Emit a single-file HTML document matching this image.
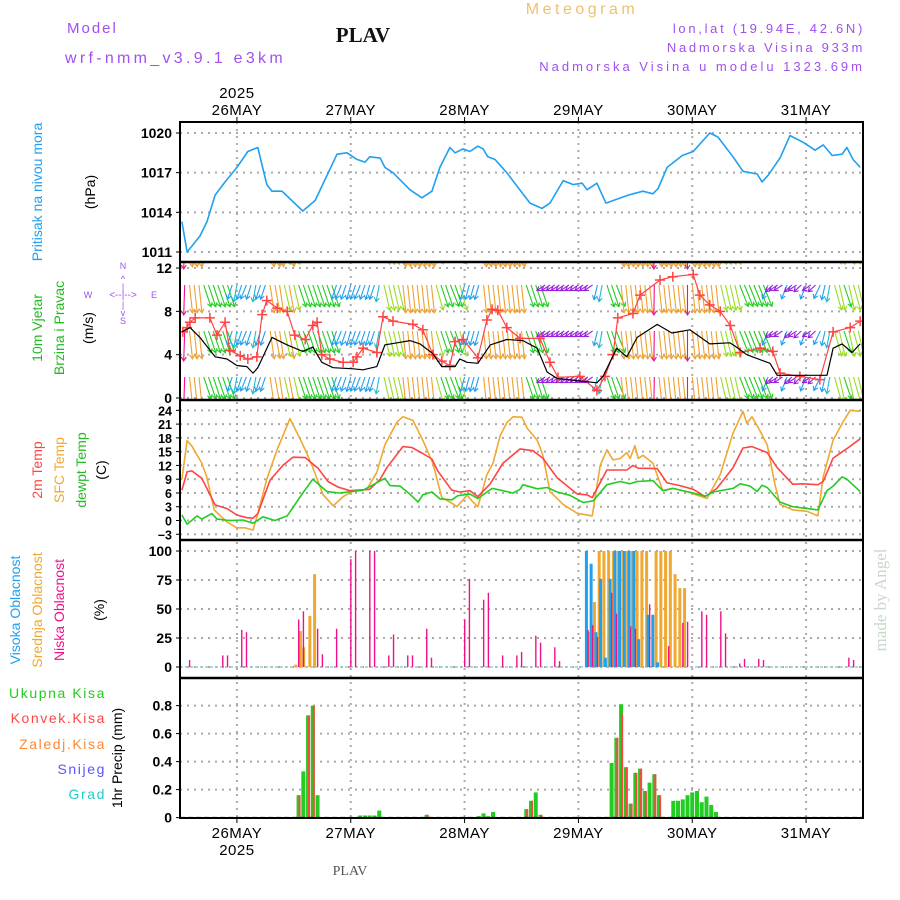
<!DOCTYPE html>
<html><head><meta charset="utf-8"><title>Meteogram PLAV</title>
<style>
html,body{margin:0;padding:0;background:#fff;}
svg{display:block;}
text{font-family:"Liberation Sans",sans-serif;}
.tick{font-size:14px;font-weight:bold;fill:#000;text-anchor:end;}
.ticks{font-size:12.5px;font-weight:bold;fill:#000;text-anchor:end;}
.lab{font-family:"Liberation Sans Narrow","Liberation Sans",sans-serif;font-size:14px;text-anchor:middle;}
.day{font-size:15px;fill:#000;text-anchor:middle;letter-spacing:0.5px;}
</style></head>
<body>
<svg id="chart" width="900" height="900" viewBox="0 0 900 900" xmlns="http://www.w3.org/2000/svg">
<rect x="0" y="0" width="900" height="900" fill="#fff"/>
<defs>
<clipPath id="c1"><rect x="180" y="122" width="683" height="140"/></clipPath>
<clipPath id="c2"><rect x="180" y="263" width="683" height="137"/></clipPath>
<clipPath id="c3"><rect x="180" y="400" width="683" height="140"/></clipPath>
<clipPath id="c4"><rect x="180" y="540" width="683" height="138"/></clipPath>
<clipPath id="c5"><rect x="180" y="678" width="683" height="140"/></clipPath>
</defs>
<!-- header -->
<text x="67" y="33" font-size="15" fill="#a050f0" letter-spacing="2">Model</text>
<text x="65" y="63" font-size="16" fill="#a050f0" letter-spacing="3.3">wrf-nmm_v3.9.1  e3km</text>
<text x="363" y="42" font-size="21" font-weight="bold" fill="#111" text-anchor="middle" style="font-family:'Liberation Serif',serif;">PLAV</text>
<text x="582" y="14" font-size="16" fill="#f0c070" text-anchor="middle" letter-spacing="3.5">Meteogram</text>
<text x="865" y="33" font-size="13" fill="#a050f0" text-anchor="end" letter-spacing="2.7">lon,lat (19.94E, 42.6N)</text>
<text x="865" y="52" font-size="13" fill="#a050f0" text-anchor="end" letter-spacing="2.7">Nadmorska Visina 933m</text>
<text x="865" y="71" font-size="13" fill="#a050f0" text-anchor="end" letter-spacing="3.0">Nadmorska Visina u modelu 1323.69m</text>
<!-- left labels -->
<text class="lab" transform="translate(42,192) rotate(-90)" fill="#1fa0f0" font-size="15.5">Pritisak na nivou mora</text>
<text class="lab" transform="translate(95,192) rotate(-90)" fill="#000">(hPa)</text>
<text class="lab" transform="translate(42,328) rotate(-90)" fill="#22bb22" font-size="15">10m Vjetar</text>
<text class="lab" transform="translate(64,328) rotate(-90)" fill="#22bb22" font-size="15">Brzina i Pravac</text>
<text class="lab" transform="translate(93,328) rotate(-90)" fill="#000">(m/s)</text>
<g fill="#a050f0" font-size="9" text-anchor="middle">
<text x="123" y="269">N</text><text x="123" y="324">S</text><text x="88" y="298">W</text><text x="154" y="298">E</text>
<text x="123" y="298" font-size="10">&lt;--|--&gt;</text>
<text x="123" y="282" font-size="9">^</text><text x="123" y="290">|</text><text x="123" y="308">|</text><text x="123" y="316">v</text>
</g>
<text class="lab" transform="translate(42,470) rotate(-90)" fill="#ff4444" font-size="15">2m Temp</text>
<text class="lab" transform="translate(64,470) rotate(-90)" fill="#f0a830" font-size="15">SFC Temp</text>
<text class="lab" transform="translate(86,470) rotate(-90)" fill="#22bb22" font-size="15">dewpt Temp</text>
<text class="lab" transform="translate(106,470) rotate(-90)" fill="#000">(C)</text>
<text class="lab" transform="translate(20,610) rotate(-90)" fill="#1fa0f0" font-size="15">Visoka Oblacnost</text>
<text class="lab" transform="translate(42,610) rotate(-90)" fill="#f0a830" font-size="15">Srednja Oblacnost</text>
<text class="lab" transform="translate(64,610) rotate(-90)" fill="#f0108a" font-size="15">Niska Oblacnost</text>
<text class="lab" transform="translate(104,610) rotate(-90)" fill="#000">(%)</text>
<g font-size="14" text-anchor="end" letter-spacing="1.6">
<text x="106" y="698" fill="#22cc22">Ukupna Kisa</text>
<text x="106" y="723" fill="#ff4444">Konvek.Kisa</text>
<text x="106" y="749" fill="#ff8833">Zaledj.Kisa</text>
<text x="106" y="774" fill="#5555ff">Snijeg</text>
<text x="106" y="799" fill="#22cccc">Grad</text>
</g>
<text class="lab" transform="translate(122,758) rotate(-90)" fill="#000" font-size="15">1hr Precip (mm)</text>
<text transform="translate(886,600) rotate(-90)" font-size="17" fill="#c8d8c8" text-anchor="middle" style="font-family:'Liberation Serif',serif;">made by Angel</text>
<text x="350" y="875" font-size="14" fill="#555" text-anchor="middle" style="font-family:'Liberation Serif',serif;">PLAV</text>
<g id="plot"></g>
</svg>
<script>
// ---------- DATA ----------
const dayLabels = ["26MAY","27MAY","28MAY","29MAY","30MAY","31MAY"];
const dayHours = [12,36,60,84,108,132];
const yearLabel = "2025";
const pressureTicks = [1011,1014,1017,1020];
const windTicks = [0,4,8,12];
const tempTicks = [-3,0,3,6,9,12,15,18,21,24];
const cloudTicks = [0,25,50,75,100];
const precipTicks = [0,0.2,0.4,0.6,0.8];
const precipTickLabels = ["0","0.2","0.4","0.6","0.8"];

const pressureHours = [0.4,1.5,4.2,5.7,7.4,9.5,12,14.3,16.4,18.3,19.4,21.5,25.9,28.5,33.1,35.2,37.3,39,40,42.2,43.2,44.9,48.5,51,53.1,54.8,56.9,58,59.7,61.1,62.8,63.9,64.9,66.4,68.9,73.8,76.3,78,80.8,82.9,84.8,85.8,87.9,89.8,94.5,95.5,97.6,99.7,100.8,102.7,105.9,108.2,111.7,113.4,116.6,118.7,121.7,122.7,124,126.5,128.6,131.4,133.9,135.6,137.5,139.6,140.6,141.9,143.4];
const pressureValues = [1013.3,1011.0,1012.2,1013.3,1015.3,1016.3,1017.4,1018.6,1018.9,1016.1,1015.6,1015.6,1014.1,1014.9,1018.4,1018.5,1018.0,1017.8,1018.2,1018.1,1017.4,1017.0,1015.7,1015.1,1015.6,1017.4,1018.9,1018.5,1018.8,1018.6,1019.0,1018.8,1018.2,1018.0,1017.0,1014.7,1014.3,1014.7,1016.4,1016.1,1016.2,1015.7,1016.2,1014.7,1015.3,1015.4,1015.6,1015.4,1015.8,1017.4,1018.3,1018.6,1020.0,1019.7,1018.2,1017.1,1016.9,1016.3,1016.8,1018.1,1019.8,1019.3,1018.7,1019.1,1018.3,1018.4,1018.9,1018.0,1017.4];

const speedHours = [0.4,2.1,4.2,7.4,9.9,12,14.1,15.4,16.4,19.4,22.6,25.9,28,29.9,32.3,36.5,38.6,41.5,43.2,45.8,48.5,50.6,53.3,55.2,58,59,60.5,62.8,65.4,68.9,72.3,75.3,77.4,79.5,87.9,89.2,92.1,94.2,96.4,100.6,103.7,107.5,111.7,115.9,117,119.5,124.4,125.9,136.4,137.7,139.6,141.7,143.4];
const speedValues = [6.1,6.5,5.6,3.8,3.6,3.0,2.9,2.3,2.8,5.6,4.9,4.3,4.7,3.3,2.8,2.7,2.6,2.9,4.9,5.1,5.3,5.0,4.1,2.9,2.9,3.6,3.3,3.2,4.9,5.4,5.3,4.6,2.4,1.8,1.4,2.0,4.6,3.8,5.6,6.8,6.0,6.3,5.0,5.1,4.8,4.0,3.2,2.1,2.1,4.6,5.0,4.2,5.0];
const gustHours = [0.6,1.5,2.1,3.2,6.3,7.8,9.5,10.5,12.7,14.3,16.2,17.3,18.3,20.5,22.6,24.2,26.4,28,28.9,29.9,31.6,34.4,36.5,37.3,38.6,41.5,42.8,44.9,49.1,51.2,53.3,55.2,56.9,58,59.7,62.8,64.7,65.8,67,68.9,71.7,75.9,78,79.7,84.3,87.9,89.6,91.3,92.3,95.5,97,101.2,103.9,108.2,109.6,111.7,113.9,116,118.1,122.3,125,126.5,130.7,134.9,137.7,141.3,143.4];
const gustValues = [6.1,6.5,7.0,7.4,7.4,5.8,7.0,4.4,3.9,3.6,3.8,7.7,9.0,8.3,8.0,5.8,5.4,6.7,7.0,4.0,3.6,3.3,3.3,3.8,4.6,4.2,7.5,7.1,6.8,6.3,4.0,3.4,3.0,5.2,5.4,3.7,7.2,8.2,8.1,6.5,5.5,5.5,3.3,1.9,2.0,0.7,2.0,4.0,7.4,7.8,9.5,10.9,11.2,11.4,9.5,8.6,8.0,6.7,4.2,4.6,4.3,2.3,2.0,1.7,6.1,6.5,7.1];
// hourly wind direction (degrees, direction wind blows from), hours 0..144
const windDir = [5,5, 345,345,345, 320,320,320,320,320,320, 40,25,40,45,40,25,40,40, 340,335,340,330,335,330, 320,320,320,320,320,320,320,320, 40,45,40,35,40,45,40,35,40,25, 330,330,330,330, 345,345,345,345,345,345,345, 325,320,320,315,320,325, 35,35,35,35, 345,345,345,345,345,345,345,345,345, 320,320,320,320, 75,75,75,75,75,75,75,75,75,75,75, 30,25,320,320,315, 345,345,345,345,345,345,345, 2, 345,345,345,345,345,345, 0, 345,345,345,345,345,345, 330,330,330,330, 315,315,315,315,315,315, 45,70,75,75,45,70,75,70,45,75,70,50, 30,25, 325,330,320,330,325,330,325];

const t2Hours = [0.4,1.5,2.5,4.6,7.4,9.9,12,14.1,15.4,16.4,19,21.7,23.8,26.4,29.1,31.2,33.3,35.8,40,42.2,43.6,47,48.9,51.2,53.1,54.4,57.3,59,61.1,62.8,65.4,68.1,71.7,74.4,76.5,79.5,83.7,85.8,86.9,90,94.2,95.5,96.6,100.6,102.7,105.4,108.2,110.7,113.2,116.6,118.7,120.6,123.8,125.9,129.2,131.4,134.5,135.6,137.7,139.8,140.8,143.4];
const t2Values = [6.6,10.6,10.8,9.2,3.4,2.6,1.2,0.6,0.5,1.5,8.8,12.0,13.8,13.7,11.4,8.5,7.3,6.5,6.8,9.0,11.5,16.1,15.9,14.6,13.4,10.7,6.6,6.2,6.5,5.2,8.0,12.5,15.6,15.2,13.6,9.3,5.8,5.6,5.0,11.0,11.0,12.0,11.4,11.3,8.2,7.6,6.8,5.2,7.0,11.5,15.8,16.1,14.8,11.5,7.9,8.0,7.8,8.5,13.6,15.1,15.8,17.8];
const sfcHours = [0.4,1.5,2.5,4.6,5.6,7.2,9.9,12,13.7,15.4,16.4,18.3,20.5,23.2,25.3,26.8,27.8,30.2,32.3,34.4,36.3,39.4,41.5,43.2,45.8,47,49.1,51.2,53.3,55.2,57.6,58.4,60.5,61.8,62.8,64.7,66,67.5,68.9,70.2,72.1,73.2,75.3,76.5,78,80.8,83.7,86.9,88.6,90,91.3,92.8,94.2,94.9,95.9,96.6,97.6,99.7,101.8,103.9,106.9,108.2,111.1,113.9,116.6,118.7,119.5,120.6,122.3,123.8,125.4,126.5,129.2,132.2,134.5,135.6,137.7,139.8,141.3,143.4];
const sfcValues = [9.0,17.4,16.2,12.5,9.6,2.3,-0.3,-1.6,-1.6,-2.1,1.5,9,15.5,22.2,17.8,14.5,12.0,5.6,3.2,5.2,6.3,6.8,10.5,16.5,21.5,22.6,21.8,17.5,12.5,5.0,3.6,3.0,5.5,4.0,3.0,10,12.5,18.5,21.3,22.6,22.5,20.1,17.5,14.3,6.3,3.5,1.6,1.0,12,15.4,13.2,13.5,14.8,13.5,16.3,13.5,14.2,12.5,6.5,7.0,6.3,5.8,4.8,10,19,23.8,21.2,22.6,19.5,16.5,8,3.5,2.3,2.0,1.0,9.5,17.5,21.5,24.0,23.8];
const dewHours = [0.4,1.5,3.6,4.6,6.7,7.8,10.5,13.3,15.4,17.5,20,22.6,25.9,28,31,33.7,38.6,43.2,44.3,46.4,48.5,50.2,51.2,53.1,54.8,57.3,58.6,61.1,62.8,65.8,68.1,70.2,71.7,72.3,75.3,77.4,79.5,82.2,85,87.1,90,92.8,94.9,96.4,99.7,101.8,103.9,108.2,110.7,112.4,116.6,118.1,120.2,121.7,122.7,123.8,126.5,129.2,134.5,136.4,137.7,139.6,140.6,143.4];
const dewValues = [1.2,-0.8,1.0,0.3,1.5,0.3,0,0.1,-0.6,0.8,0.0,1.0,6.0,9.0,6.3,6.0,6.6,9.2,7.6,7.5,5.7,4.0,5.6,6.2,4.7,4.5,5.4,5.8,4.8,7.0,6.5,6.0,6.8,7.8,6.9,7.2,6.2,5.5,3.9,4.3,7.8,8.5,8.0,8.5,8.7,6.5,7.0,6.0,5.3,6.2,7.0,8.0,7.5,6.3,7.7,7.2,4.0,3.0,2.3,6.5,7.5,9.5,9.0,6.3];

const lowCloudHours = [2,9,10,13,14,25,26,29,30,33,36,37,40,41,44,45,48,49,52,53,60,61,64,65,68,71,72,75,76,79,80,86,87,88,91,92,95,96,99,103,106,107,110,111,114,115,118,119,122,123,141,142];
const lowCloudValues = [6,10,10,32,30,41,48,33,11,33,93,100,100,100,10,28,10,10,33,8,41,76,58,64,10,10,13,27,21,17,5,32,36,26,64,46,35,33,54,18,38,39,48,45,48,29,3,7,7,6,8,6];
const midCloudHours = [24,25,25.7,27,28,86,87,88,89,90,91,92,93,94,95,96,97,98,100,101,102,103,104,105,106];
const midCloudValues = [2,31,17,44,80,30,56,100,100,100,100,100,100,100,100,100,100,100,100,100,100,100,80,68,68];
const highCloudHours = [86,87,88,89,90,91,92,93,94,95,96,97,99,100,101];
const highCloudValues = [100,89,30,76,8,76,100,100,100,100,100,24,45,45,4];

const precipHours = [25,26,27,28,29,38,39,40,41,42,52,63,64,65,66,73,74,75,76,91,92,93,94,95,96,97,98,99,100,101,104,105,106,107,108,109,110,111,112,113];
const precipTotal = [0.16,0.33,0.73,0.80,0.16,0.015,0.015,0.015,0.015,0.05,0.02,0.01,0.03,0.01,0.04,0.06,0.12,0.18,0.02,0.39,0.57,0.81,0.36,0.10,0.32,0.35,0.19,0.25,0.31,0.16,0.12,0.12,0.13,0.16,0.18,0.19,0.11,0.15,0.09,0.04];
const precipConv = [0.16,0,0.73,0.80,0,0,0,0,0,0,0.02,0,0,0,0,0.06,0.12,0,0.02,0,0.57,0.74,0.36,0.10,0.32,0.35,0.19,0,0.31,0.16,0,0,0,0,0,0,0,0,0,0];

// ---------- SCALES ----------
const X0=180, X1=863, HRS=144;
const xH = h => X0 + h*(X1-X0)/HRS;
const yP = v => 133 + (1020-v)*13.22;
const yW = v => 398 - v*10.83;
const yT = v => 520.5 - v*4.59;
const yC = v => 667 - v*1.16;
const yR = v => 817.6 - v*140;

const NS="http://www.w3.org/2000/svg";
const plot=document.getElementById('plot');
function mk(tag, attrs, parent){
  const e=document.createElementNS(NS,tag);
  for(const k in attrs) e.setAttribute(k,attrs[k]);
  (parent||plot).appendChild(e); return e;
}
function grp(clip){ const g=mk('g',{}); if(clip) g.setAttribute('clip-path','url(#'+clip+')'); return g; }

// ---------- GRID ----------
const gridG = grp(null);


const dot = {stroke:'#aaa','stroke-width':2,'stroke-dasharray':'2,5',fill:'none'};
function hgrid(y){ const l=mk('line',Object.assign({x1:X0,x2:X1,y1:y,y2:y},dot),gridG);
  
   }
pressureTicks.forEach(v=>hgrid(yP(v)));
windTicks.forEach(v=>hgrid(yW(v)));
tempTicks.forEach(v=>hgrid(yT(v)));
cloudTicks.forEach(v=>hgrid(yC(v)));
precipTicks.forEach(v=>{ if(v>0) hgrid(yR(v)); });
dayHours.forEach(h=>{
  const l=mk('line',Object.assign({x1:xH(h),x2:xH(h),y1:122,y2:818},dot),gridG);
  
  
});

// ---------- TICK LABELS ----------
function ticks(arr, yf, cls, labels, name){
  arr.forEach((v,i)=>{
    const t=mk('text',{x:172,y:yf(v)+5,class:cls});
    t.textContent = labels ? labels[i] : String(v).replace('-','\u2212');
    
    
    mk('line',{x1:176,x2:180,y1:yf(v),y2:yf(v),stroke:'#000','stroke-width':1});
  });
}
ticks(pressureTicks,yP,'tick',null,'pressure-tick-label');
ticks(windTicks,yW,'tick',null,'wind-tick-label');
ticks(tempTicks,yT,'ticks',null,'temp-tick-label');
ticks(cloudTicks,yC,'tick',null,'cloud-tick-label');
ticks(precipTicks,yR,'tick',precipTickLabels,'precip-tick-label');

// day labels
dayLabels.forEach((d,i)=>{
  const x=xH(dayHours[i]);
  const t=mk('text',{x:x,y:115,class:'day'}); t.textContent=d;
  
  
  const b=mk('text',{x:x,y:838,class:'day'}); b.textContent=d;
  
  
  mk('line',{x1:x,x2:x,y1:117,y2:122,stroke:'#000'});
  mk('line',{x1:x,x2:x,y1:818,y2:823,stroke:'#000'});
});
const y1t=mk('text',{x:xH(dayHours[0]),y:98,class:'day'}); y1t.textContent=yearLabel;


const y2t=mk('text',{x:xH(dayHours[0]),y:855,class:'day'}); y2t.textContent=yearLabel;



function poly(hours, vals, xf, yf, color, w, g, name){
  const pts=hours.map((h,i)=>xf(h).toFixed(1)+','+yf(vals[i]).toFixed(1)).join(' ');
  const p=mk('polyline',{points:pts,fill:'none',stroke:color,'stroke-width':w,'stroke-linejoin':'round'},g);
  
  
  return p;
}

// ---------- PRESSURE ----------
const g1=grp('c1');
poly(pressureHours,pressureValues,xH,yP,'#1fa0f0',1.6,g1,'pressure-line');

// ---------- WIND ARROWS ----------
const g2=grp('c2');
function dirColor(d){
  if(d>=350||d<10) return ['#f0108a',30];
  if(d>=335) return ['#f0a030',28];
  if(d>=325) return ['#99dd22',26];
  if(d>=280) return ['#22cc22',23];
  if(d<30) return ['#22bbcc',17];
  if(d<60) return ['#1fa0f0',15];
  return ['#9922dd',10];
}
const rowTops=[239,285,331,377];
windDir.forEach((d,h)=>{
  const x=xH(h); const [col,L]=dirColor(d);
  const r=d*Math.PI/180;
  let ux=-Math.sin(r)*0.4, uy=Math.cos(r);
  const n=Math.hypot(ux,uy); ux/=n; uy/=n;
  rowTops.forEach(top=>{
    const hx=x+ux*L, hy=top+uy*L;
    const a=mk('path',{d:`M${x.toFixed(1)},${top} L${hx.toFixed(1)},${hy.toFixed(1)} M${(hx-ux*4-uy*2.5).toFixed(1)},${(hy-uy*4+ux*2.5).toFixed(1)} L${hx.toFixed(1)},${hy.toFixed(1)} L${(hx-ux*4+uy*2.5).toFixed(1)},${(hy-uy*4-ux*2.5).toFixed(1)}`,stroke:col,'stroke-width':1.1,fill:'none'},g2);
    
    
  });
});
poly(gustHours,gustValues,xH,yW,'#ff4444',1.2,g2,'wind-gust-line');
gustHours.forEach((h,i)=>{
  const x=xH(h), y=yW(gustValues[i]);
  const m=mk('path',{d:`M${x-5},${y} L${x+5},${y} M${x},${y-5} L${x},${y+5}`,stroke:'#ff4444','stroke-width':1.5},g2);
  
  
});
poly(speedHours,speedValues,xH,yW,'#000',1.2,g2,'wind-speed-line');

// ---------- TEMPERATURE ----------
const g3=grp('c3');
poly(sfcHours,sfcValues,xH,yT,'#f0a830',1.6,g3,'sfc-temp-line');
poly(t2Hours,t2Values,xH,yT,'#ff4444',1.6,g3,'temp-2m-line');
poly(dewHours,dewValues,xH,yT,'#22cc22',1.6,g3,'dewpoint-line');

// ---------- CLOUDS ----------
const g4=grp('c4');
mk('line',{x1:X0,x2:X1,y1:yC(0),y2:yC(0),stroke:'#9cc','stroke-width':1.5,'stroke-dasharray':'3,2'},g4);
midCloudHours.forEach((h,i)=>{
  const r=mk('rect',{x:xH(h)+0.3,y:yC(midCloudValues[i]),width:3,height:yC(0)-yC(midCloudValues[i]),fill:'#f0a830'},g4);
  
  
});
highCloudHours.forEach((h,i)=>{
  const r=mk('rect',{x:xH(h)-3,y:yC(highCloudValues[i]),width:3,height:yC(0)-yC(highCloudValues[i]),fill:'#1fa0f0'},g4);
  
  
});
lowCloudHours.forEach((h,i)=>{
  const r=mk('rect',{x:xH(h)-0.6,y:yC(lowCloudValues[i]),width:1.4,height:yC(0)-yC(lowCloudValues[i]),fill:'#f0108a'},g4);
  
  
});

// ---------- PRECIP ----------
const g5=grp('c5');
precipHours.forEach((h,i)=>{
  const x=xH(h);
  const r=mk('rect',{x:x-2,y:yR(precipTotal[i]),width:4,height:yR(0)-yR(precipTotal[i]),fill:'#22cc22'},g5);
  
  
  if(precipConv[i]>0){
    const c=mk('rect',{x:x,y:yR(precipConv[i]),width:2,height:yR(0)-yR(precipConv[i]),fill:'#ff4444'},g5);
    
    
  }
});
mk('line',{x1:X0,x2:X1,y1:yR(0),y2:yR(0),stroke:'#000','stroke-width':1.5,'stroke-dasharray':'5,3'},g5);

// ---------- FRAMES ----------
const fr=mk('rect',{x:X0,y:122,width:X1-X0,height:696,fill:'none',stroke:'#000','stroke-width':2});


[262,400,540,678].forEach(y=>{
  const l=mk('line',{x1:X0,x2:X1,y1:y,y2:y,stroke:'#000','stroke-width':2.5});
  
  
});
</script>
</body></html>
